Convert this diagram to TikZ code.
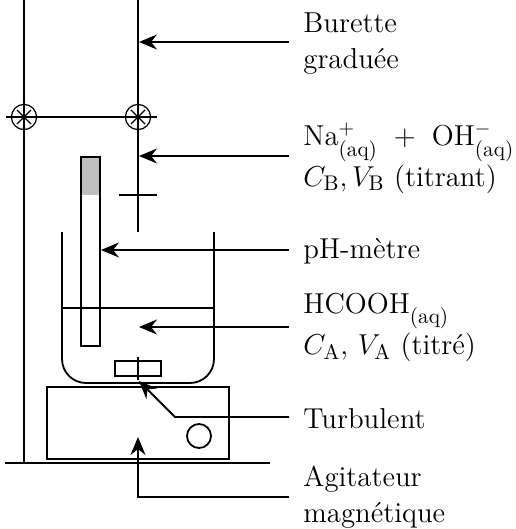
\documentclass[tikz,border=0pt]{standalone}
\usepackage{amsmath,amssymb}
\usetikzlibrary{arrows.meta}
\newcommand{\indice}[1]{\text{\fontsize{10.6}{12}\selectfont #1}}
\tikzset{
  trait/.style={line width=0.9pt},
  fin/.style={line width=0.6pt},
  fleche/.style={line width=0.9pt,-{Stealth[length=9pt,width=7.5pt,inset=3pt]}},
  legende/.style={anchor=base west,inner sep=0pt,font=\Large}
}
\begin{document}
\begin{tikzpicture}[x=0.5pt,y=-0.5pt]
    \useasboundingbox (0,0) rectangle (515,529);
    % Stand and burette
    \draw[trait] (24,0) -- (24,463);
    \draw[trait] (138,0) -- (138,232);
    \draw[trait] (6,117) -- (157,117);
    \draw[trait] (119,195) -- (157,195);
    % Clamps
    \foreach \x/\nom in {24/gauche,138/droite} {
      \node[circle,draw,fin,minimum size=12.6pt,inner sep=0pt] (noix\nom) at (\x,117) {};
      \draw[fin,shorten >=1.6pt,shorten <=1.6pt] (noix\nom.45) -- (noix\nom.225);
      \draw[fin,shorten >=1.6pt,shorten <=1.6pt] (noix\nom.135) -- (noix\nom.315);
    }
    % pH probe
    \fill[black!25] (81,157) rectangle (100,195);
    \draw[trait] (81,157) rectangle (100,346);
    % Beaker
    \draw[trait,rounded corners=12pt] (62,232) -- (62,383) -- (214,383) -- (214,232);
    \draw[trait] (62,308) -- (214,308);
    % Stir bar
    \draw[trait] (115,361) rectangle (161,376);
    \draw[trait] (138,357) -- (138,380);
    % Magnetic stirrer
    \draw[trait] (47,387) rectangle (229,459);
    \draw[trait] (199,436) circle (12);
    \draw[trait] (5,463) -- (270,463);
    % Labels
    \node[legende] (burette) at (303,33) {Burette};
    \node[legende] (graduee) at (303,69) {gradu\'ee};
    \node[legende] (soude) at (303,146) {Na$^+_{\indice{(aq)}}$\;\;+\;\;OH$^-_{\indice{(aq)}}$};
    \node[legende] (titrant) at (303,186) {$C_{\indice{B}},V_{\indice{B}}$ (titrant)};
    \node[legende] (phmetre) at (303,258) {pH-m\`etre};
    \node[legende] (acide) at (303,313) {HCOOH$^{\vphantom{+}}_{\indice{(aq)}}$};
    \node[legende] (titre) at (303,354) {$C_{\indice{A}},\,V_{\indice{A}}$ (titr\'e)};
    \node[legende] (turbulent) at (303,428) {Turbulent};
    \node[legende] (agitateur) at (303,486) {Agitateur};
    \node[legende] (magnetique) at (303,522) {magn\'etique};
    % Arrows
    \draw[fleche] ([xshift=-7pt]burette.west |- 0,42) -- (139,42);
    \draw[fleche] ([xshift=-7pt]soude.west |- 0,156) -- (139,156);
    \draw[fleche] ([xshift=-7pt]phmetre.west |- 0,250) -- (101,250);
    \draw[fleche] ([xshift=-7pt]acide.west |- 0,327) -- (139,327);
    \draw[fleche] ([xshift=-7pt]turbulent.west |- 0,417) -- (175,417) -- (139,381);
    \draw[fleche] ([xshift=-7pt]agitateur.west |- 0,497) -- (138,497) -- (138,437);
\end{tikzpicture}
\end{document}
